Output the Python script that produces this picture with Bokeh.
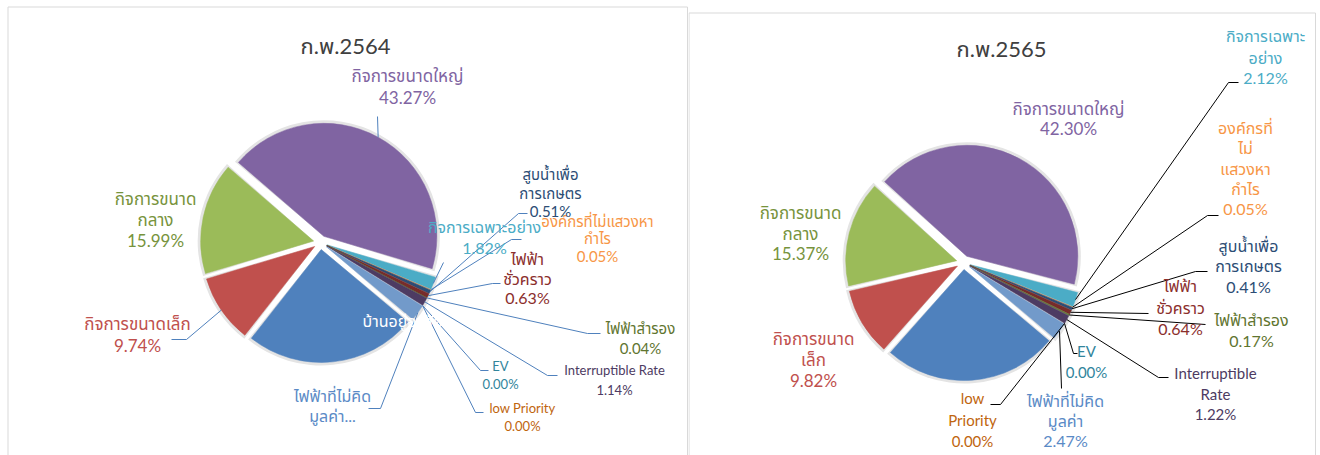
import math
from bokeh.plotting import figure
from bokeh.layouts import row
from bokeh.models import Range1d, ColumnDataSource
from bokeh.core.properties import value
from bokeh.embed import file_html
from bokeh.resources import INLINE

# ---------------- data ----------------
categories = ["บ้านอยู่อาศัย", "กิจการขนาดเล็ก", "กิจการขนาดกลาง", "กิจการขนาดใหญ่",
              "กิจการเฉพาะอย่าง", "องค์กรที่ไม่แสวงหากำไร", "สูบน้ำเพื่อการเกษตร",
              "ไฟฟ้าชั่วคราว", "ไฟฟ้าสำรอง", "Interruptible Rate", "EV", "low Priority",
              "ไฟฟ้าที่ไม่คิดมูลค่า"]
values_2564 = [24.50, 9.74, 15.99, 43.27, 1.82, 0.05, 0.51, 0.63, 0.04, 1.14, 0.00, 0.00, 2.31]
values_2565 = [25.43, 9.82, 15.37, 42.30, 2.12, 0.05, 0.41, 0.64, 0.17, 1.22, 0.00, 0.00, 2.47]
titles = ["ก.พ.2564", "ก.พ.2565"]

# label wrapping (text lines of each category label); None = no label
wrap_2564 = [["บ้านอยู่อาศัย"], ["กิจการขนาดเล็ก"], ["กิจการขนาด", "กลาง"], ["กิจการขนาดใหญ่"],
             ["กิจการเฉพาะอย่าง"], ["องค์กรที่ไม่แสวงหา", "กำไร"], ["สูบน้ำเพื่อ", "การเกษตร"],
             ["ไฟฟ้า", "ชั่วคราว"], ["ไฟฟ้าสำรอง"], ["Interruptible Rate"], ["EV"], ["low Priority"],
             ["ไฟฟ้าที่ไม่คิด", "มูลค่า..."]]
wrap_2565 = [None, ["กิจการขนาด", "เล็ก"], ["กิจการขนาด", "กลาง"], ["กิจการขนาดใหญ่"],
             ["กิจการเฉพาะ", "อย่าง"], ["องค์กรที่", "ไม่", "แสวงหา", "กำไร"], ["สูบน้ำเพื่อ", "การเกษตร"],
             ["ไฟฟ้า", "ชั่วคราว"], ["ไฟฟ้าสำรอง"], ["Interruptible", "Rate"], ["EV"], ["low", "Priority"],
             ["ไฟฟ้าที่ไม่คิด", "มูลค่า"]]
show_pct_2564 = [False, True, True, True, True, True, True, True, True, True, True, True, False]
show_pct_2565 = [False] + [True] * 12

# ---------------- styles ----------------
slice_colors = ["#4F81BD", "#C0504D", "#9BBB59", "#8064A2", "#4BACC6", "#F79646", "#2C4D75",
                "#772C2A", "#5F7530", "#4D3B62", "#276A7C", "#B65708", "#729ACA"]
label_colors = ["#FFFFFF", "#C0504D", "#77933C", "#8064A2", "#4BACC6", "#F79646", "#2C4D75",
                "#8B2E2C", "#5F7530", "#4D3B62", "#31859C", "#C0650E", "#5A8AC6"]
FONT = "Lato, 'Noto Sans Thai', 'Noto Sans', sans-serif"
H = 455
FIRST_SLICE_DEG = 130

# per-panel layout in page pixel coordinates
panels = [
    dict(ox=0, w=688, cx=320, cy=242, r=113, d=7, title_xy=(345, 45), leader="#4F81BD",
         border=[(7.5, 6.5), (7.5, 1000), (687, 6.5), (687, 1000)],
         labels=[
             dict(x=362, ys=[320], size=16, align="left"),
             dict(x=137, ys=[323, 345], size=17, pts=[(186, 339), (171, 339)]),
             dict(x=155, ys=[198, 219, 240], size=17),
             dict(x=407, ys=[75, 97], size=17, pts=[(377, 116)]),
             dict(x=484, ys=[226, 247], size=16, pts=[(443, 262)]),
             dict(x=597, ys=[220, 237, 255], size=15, pts=[(511, 239), (521, 239)]),
             dict(x=550, ys=[173, 192, 210], size=15, pts=[(518, 213), (527, 213)]),
             dict(x=527, ys=[258, 278, 297], size=16, pts=[(492, 283), (500, 283)]),
             dict(x=640, ys=[327, 347], size=15, pts=[(587, 333), (600, 333)]),
             dict(x=614, ys=[369, 389], size=13, pts=[(547, 375), (557, 375)]),
             dict(x=500, ys=[365, 383], size=13, pts=[(480, 370), (488, 370)]),
             dict(x=522, ys=[407, 425], size=13, pts=[(475, 412), (483, 412)]),
             dict(x=332, ys=[395, 415], size=16, pts=[(380, 408), (368, 408)]),
         ]),
    dict(ox=688, w=632, cx=963, cy=262, r=111, d=7, title_xy=(1001, 48), leader="#000000",
         border=[(688.5, 12.5), (688.5, 1000), (1315, 12.5), (1315, 1000)],
         labels=[
             None,
             dict(x=813, ys=[338, 359, 380], size=17),
             dict(x=800, ys=[212, 233, 253], size=17),
             dict(x=1068, ys=[108, 128], size=17),
             dict(x=1265, ys=[35, 57, 77], size=16, pts=[(1228, 82), (1238, 82)]),
             dict(x=1245, ys=[127, 147, 168, 188, 208], size=16, pts=[(1207, 215), (1218, 215)]),
             dict(x=1248, ys=[245, 265, 286], size=16, pts=[(1195, 271), (1207, 271)]),
             dict(x=1180, ys=[285, 307, 328], size=16, pts=[(1148, 313)]),
             dict(x=1251, ys=[319, 340], size=16, pts=[(1205, 324)]),
             dict(x=1215, ys=[372, 393, 413], size=15, pts=[(1158, 377), (1168, 377)]),
             dict(x=1086, ys=[350, 371], size=15, pts=[(1073, 353), (1077, 353)]),
             dict(x=972, ys=[397, 419, 440], size=15, pts=[(1000, 404), (990, 404)]),
             dict(x=1065, ys=[400, 420, 440], size=16, pts=[(1061, 388)]),
         ]),
]

series = [values_2564, values_2565]
wraps = [wrap_2564, wrap_2565]
show_pcts = [show_pct_2564, show_pct_2565]


def make_panel(k):
    P = panels[k]
    ox = P["ox"]
    fx = lambda X: X - ox
    fy = lambda Y: H - Y
    p = figure(width=P["w"], height=H, output_backend="svg", toolbar_location=None,
               x_range=Range1d(0, P["w"]), y_range=Range1d(0, H),
               x_axis_type=None, y_axis_type=None, min_border=0)
    p.min_border_left = p.min_border_right = p.min_border_top = p.min_border_bottom = 0
    p.grid.visible = False
    p.outline_line_color = None
    p.background_fill_color = "white"
    p.border_fill_color = "white"

    # panel border (chart area frame)
    b = P["border"]
    p.line([fx(b[1][0]), fx(b[0][0]), fx(b[2][0]), fx(b[3][0])],
           [fy(b[1][1]), fy(b[0][1]), fy(b[2][1]), fy(b[3][1])],
           line_color="#D9D9D9", line_width=1)

    vals = series[k]
    total = sum(vals)
    cx, cy, r, d = fx(P["cx"]), fy(P["cy"]), P["r"], P["d"]
    start = math.radians(90 - FIRST_SLICE_DEG)
    acc = 0.0
    xs, ys, sa, ea, mids, cols = [], [], [], [], [], []
    for i, v in enumerate(vals):
        a0 = start - 2 * math.pi * acc / total
        a1 = start - 2 * math.pi * (acc + v) / total
        acc += v
        mid = (a0 + a1) / 2
        mids.append(mid)
        if v <= 0:
            continue  # a zero slice is not drawn
        xs.append(cx + d * math.cos(mid))
        ys.append(cy + d * math.sin(mid))
        sa.append(a1)
        ea.append(a0)
        cols.append(slice_colors[i])
    src = ColumnDataSource(dict(x=xs, y=ys, start=sa, end=ea, color=cols))
    # soft shadow
    sh = ColumnDataSource(dict(x=xs, y=ys, start=[s - 0.015 for s in sa], end=[e + 0.015 for e in ea]))
    p.wedge(x="x", y="y", radius=r + 3, start_angle="start", end_angle="end",
            fill_color="#E4E4E4", line_color=None, source=sh)
    p.wedge(x="x", y="y", radius=r, start_angle="start", end_angle="end",
            fill_color="color", line_color="color", line_width=0.5, source=src)

    # title
    tx, ty = P["title_xy"]
    p.text([fx(tx)], [fy(ty)], text=[titles[k]], text_align="center", text_baseline="middle",
           text_font=value(FONT), text_font_size="22px", text_color="#404040")

    # leader lines
    for i, L in enumerate(P["labels"]):
        if L is None or "pts" not in L:
            continue
        R = r + d
        sx = cx + R * math.cos(mids[i])
        sy = cy + R * math.sin(mids[i])
        lx = [sx] + [fx(q[0]) for q in L["pts"]]
        ly = [sy] + [fy(q[1]) for q in L["pts"]]
        p.line(lx, ly, line_color=P["leader"], line_width=1)

    # labels
    for i, L in enumerate(P["labels"]):
        if L is None:
            continue
        lines = list(wraps[k][i])
        if show_pcts[k][i]:
            lines.append(f"{vals[i]:.2f}%")
        for j, t in enumerate(lines):
            p.text([fx(L["x"])], [fy(L["ys"][j])], text=[t], text_align=L.get("align", "center"),
                   text_baseline="middle", text_font=value(FONT),
                   text_font_size=f"{L['size']}px", text_color=label_colors[i])
    return p


layout = row(make_panel(0), make_panel(1))
open("out.html", "w").write(file_html(layout, INLINE))
